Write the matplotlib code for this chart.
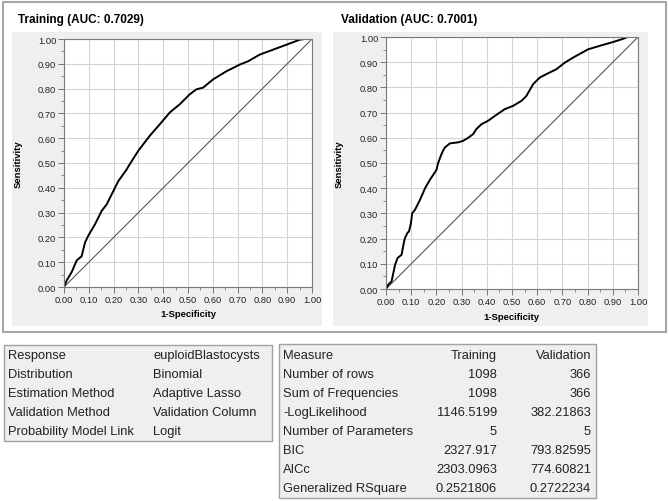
import matplotlib
matplotlib.use("Agg")
import matplotlib.pyplot as plt
from matplotlib.patches import Rectangle
from matplotlib.ticker import MultipleLocator, FormatStrFormatter

W, H = 669, 502
plt.rcParams['font.family'] = ['Liberation Sans', 'DejaVu Sans']

# ROC curves
train_fpr = [0.0, 0.011, 0.031, 0.051, 0.071, 0.085, 0.098, 0.125, 0.152, 0.172,
             0.199, 0.219, 0.252, 0.262, 0.279, 0.30, 0.346, 0.387, 0.427, 0.467,
             0.507, 0.534, 0.561, 0.601, 0.655, 0.709, 0.742, 0.789, 0.843, 0.897,
             0.95, 0.97, 1.0]
train_tpr = [0.0, 0.027, 0.06, 0.107, 0.124, 0.18, 0.207, 0.253, 0.307, 0.333,
             0.387, 0.427, 0.473, 0.49, 0.517, 0.55, 0.61, 0.657, 0.704, 0.737,
             0.777, 0.797, 0.804, 0.837, 0.87, 0.897, 0.91, 0.937, 0.957, 0.977,
             0.997, 1.0, 1.0]

valid_fpr = [0.0, 0.009, 0.022, 0.029, 0.036, 0.046, 0.062, 0.069, 0.075, 0.086,
             0.091, 0.099, 0.104, 0.115, 0.135, 0.155, 0.174, 0.20, 0.207, 0.218,
             0.227, 0.234, 0.254, 0.287, 0.306, 0.326, 0.346, 0.359, 0.379, 0.406,
             0.432, 0.472, 0.505, 0.538, 0.557, 0.584, 0.61, 0.643, 0.676, 0.709,
             0.749, 0.802, 0.855, 0.901, 0.941, 0.96, 1.0]
valid_tpr = [0.0, 0.017, 0.03, 0.063, 0.096, 0.123, 0.136, 0.175, 0.202, 0.224,
             0.228, 0.261, 0.301, 0.314, 0.354, 0.40, 0.433, 0.472, 0.50, 0.53,
             0.55, 0.562, 0.578, 0.582, 0.588, 0.60, 0.615, 0.635, 0.654, 0.668,
             0.687, 0.714, 0.727, 0.747, 0.766, 0.813, 0.839, 0.856, 0.872, 0.898,
             0.922, 0.951, 0.967, 0.98, 0.993, 1.0, 1.0]

train_title = "Training (AUC: 0.7029)"
valid_title = "Validation (AUC: 0.7001)"

# model summary table
summary_keys = ["Response", "Distribution", "Estimation Method",
                "Validation Method", "Probability Model Link"]
summary_vals = ["euploidBlastocysts", "Binomial", "Adaptive Lasso",
                "Validation Column", "Logit"]

# fit statistics table
measure_header = ["Measure", "Training", "Validation"]
measures = ["Number of rows", "Sum of Frequencies", "-LogLikelihood",
            "Number of Parameters", "BIC", "AICc", "Generalized RSquare"]
train_stats = ["1098", "1098", "1146.5199", "5", "2327.917", "2303.0963", "0.2521806"]
valid_stats = ["366", "366", "382.21863", "5", "793.82595", "774.60821", "0.2722234"]


def box(x0, y0, x1, y1):
    return [x0 / W, 1 - y1 / H, (x1 - x0) / W, (y1 - y0) / H]


fig = plt.figure(figsize=(W / 100, H / 100), dpi=100)
bg = fig.add_axes([0, 0, 1, 1])
bg.set_xlim(0, W)
bg.set_ylim(H, 0)
bg.axis("off")

# outer frame and panel backgrounds
bg.add_patch(Rectangle((2.5, 3), 663.5, 330, fc="white", ec="#a6a6a6", lw=1.5))
bg.add_patch(Rectangle((12, 33), 310, 294, fc="#efefef", ec="none"))
bg.add_patch(Rectangle((333, 33), 315, 294, fc="#efefef", ec="none"))

bg.text(18, 20, train_title, fontsize=8.5, fontweight="bold", va="center")
bg.text(341, 20, valid_title, fontsize=8.5, fontweight="bold", va="center")
bg.text(18, 164, "Sensitivity", fontsize=6.8, fontweight="bold", rotation=90,
        ha="center", va="center")
bg.text(339, 164, "Sensitivity", fontsize=6.8, fontweight="bold", rotation=90,
        ha="center", va="center")
bg.text(188, 315, "1-Specificity", fontsize=6.8, fontweight="bold",
        ha="center", va="center")
bg.text(511, 318, "1-Specificity", fontsize=6.8, fontweight="bold",
        ha="center", va="center")

# tables
bg.add_patch(Rectangle((3.5, 346), 268, 96, fc="#edeff1", ec="#a0a0a0", lw=1))
bg.add_patch(Rectangle((279, 345), 317, 154, fc="#edeff1", ec="#a0a0a0", lw=1))
for i, (k, v) in enumerate(zip(summary_keys, summary_vals)):
    y = 356 + i * 19
    bg.text(8, y, k, fontsize=9.3, va="center", color="#222222")
    bg.text(153, y, v, fontsize=9.3, va="center", color="#222222")
rows = [measure_header] + [[m, a, b] for m, a, b in zip(measures, train_stats, valid_stats)]
for i, (m, a, b) in enumerate(rows):
    y = 356 + i * 19
    bg.text(283, y, m, fontsize=9.3, va="center", color="#222222")
    bg.text(497, y, a, fontsize=9.3, va="center", ha="right", color="#222222")
    bg.text(591, y, b, fontsize=9.3, va="center", ha="right", color="#222222")


def roc_axes(rect, fpr, tpr):
    ax = fig.add_axes(rect)
    ax.set_facecolor("white")
    ax.plot([0, 1], [0, 1], color="#555555", lw=0.8)
    ax.plot(fpr, tpr, color="black", lw=1.4)
    ax.set_xlim(0, 1)
    ax.set_ylim(0, 1)
    ax.xaxis.set_major_locator(MultipleLocator(0.1))
    ax.yaxis.set_major_locator(MultipleLocator(0.1))
    ax.xaxis.set_minor_locator(MultipleLocator(0.05))
    ax.yaxis.set_minor_locator(MultipleLocator(0.05))
    ax.xaxis.set_major_formatter(FormatStrFormatter("%.2f"))
    ax.yaxis.set_major_formatter(FormatStrFormatter("%.2f"))
    ax.grid(True, which="major", color="#d4d4d4", lw=0.8)
    ax.set_axisbelow(True)
    ax.tick_params(which="major", length=4, width=0.7, color="#777777",
                   labelsize=6.7, pad=1.5, labelcolor="#222222")
    ax.tick_params(which="minor", length=2, width=0.6, color="#777777")
    for s in ax.spines.values():
        s.set_color("#7a7a7a")
        s.set_linewidth(0.8)
    return ax


roc_axes(box(64, 40, 312, 288), train_fpr, train_tpr)
roc_axes(box(386, 38, 638, 290), valid_fpr, valid_tpr)

fig.savefig("out.png", dpi=100)
